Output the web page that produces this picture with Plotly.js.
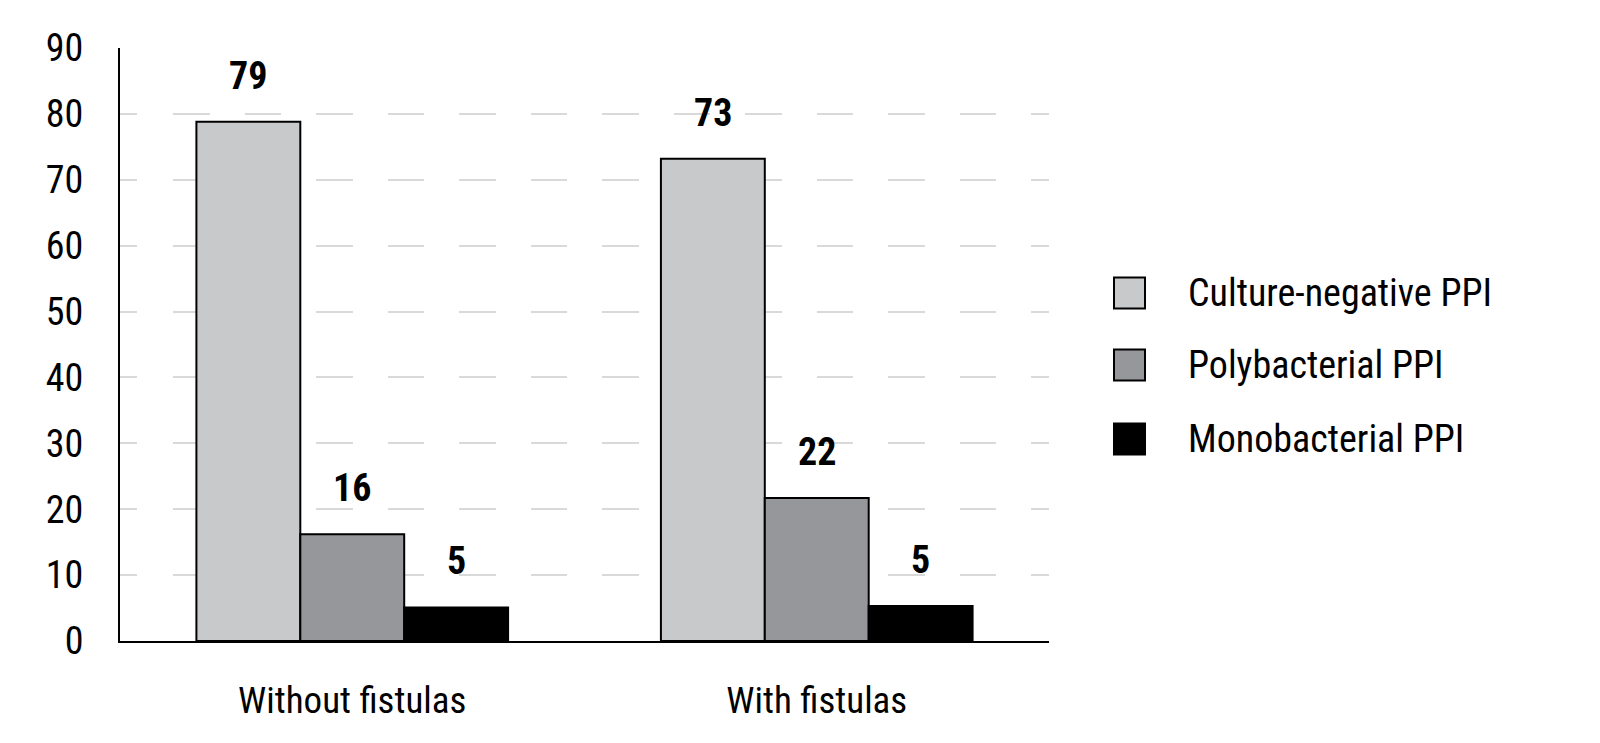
<!DOCTYPE html>
<html>
<head>
<meta charset="utf-8">
<script src="https://cdn.plot.ly/plotly-3.0.1.min.js"></script>
<style>html,body{margin:0;padding:0;background:#fff;}#chart{width:1600px;height:743px;}</style>
</head>
<body>
<div id="chart"></div>
<script>
// ---- data ----
var categories = ['Without fistulas', 'With fistulas'];
var seriesNames = ['Culture-negative PPI', 'Polybacterial PPI', 'Monobacterial PPI'];
var cultureNegative = [78.8, 73.2];
var polybacterial = [16.2, 21.7];
var monobacterial = [5.1, 5.3];
var labelsCultureNegative = ['79', '73'];
var labelsPolybacterial = ['16', '22'];
var labelsMonobacterial = ['5', '5'];
var yTickValues = [0, 10, 20, 30, 40, 50, 60, 70, 80, 90];

// ---- style ----
var colors = ['#c8c9cb', '#96979a', '#000000'];
var FONT = '"Roboto Condensed", "DejaVu Sans Condensed", sans-serif';
var W = 1600, H = 743;
var M = {l: 120, r: 551, t: 48, b: 102};
var bargap = 0.329;

var seriesValues = [cultureNegative, polybacterial, monobacterial];
var seriesLabels = [labelsCultureNegative, labelsPolybacterial, labelsMonobacterial];

var traces = seriesValues.map(function (vals, j) {
  return {
    type: 'bar',
    name: seriesNames[j],
    x: categories,
    y: vals,
    marker: {color: colors[j], line: {color: '#000000', width: 2}},
    hoverinfo: 'skip',
    showlegend: false
  };
});

// grid dash pattern: partial first dash then regular dashes
var dashParts = ['17px', '36px'];
for (var k = 0; k < 14; k++) { dashParts.push('36.5px'); dashParts.push('35px'); }
var gridDash = dashParts.join(',');

var annotations = [];
var barW = (1 - bargap) / 3;
seriesValues.forEach(function (vals, j) {
  vals.forEach(function (v, i) {
    annotations.push({
      x: i + (j - 1) * barW, y: v, xref: 'x', yref: 'y',
      text: '<b>' + seriesLabels[j][i] + '</b>',
      showarrow: false, yanchor: 'bottom', yshift: 22,
      font: {family: FONT, size: 38, color: '#000'}
    });
  });
});

// custom legend (large square swatches)
var plotW = W - M.l - M.r, plotH = H - M.t - M.b;
function px2x(p) { return (p - M.l) / plotW; }
function py2y(p) { return (H - M.b - p) / plotH; }
var legendCentersY = [293, 365, 439];
var shapes = [];
seriesNames.forEach(function (name, j) {
  var cy = legendCentersY[j];
  shapes.push({
    type: 'rect', xref: 'paper', yref: 'paper',
    x0: px2x(1114), x1: px2x(1145), y0: py2y(cy + 15.5), y1: py2y(cy - 15.5),
    fillcolor: colors[j], line: {color: '#000', width: 2}
  });
  annotations.push({
    xref: 'paper', yref: 'paper', x: px2x(1186), y: py2y(cy),
    xanchor: 'left', yanchor: 'middle', showarrow: false,
    text: name, font: {family: FONT, size: 38, color: '#000'}
  });
});

var layout = {
  width: W, height: H,
  margin: M,
  paper_bgcolor: '#ffffff', plot_bgcolor: '#ffffff',
  barmode: 'group', bargap: bargap, bargroupgap: 0,
  showlegend: false,
  font: {family: FONT, size: 38, color: '#000'},
  xaxis: {
    type: 'category', range: [-0.5, 1.5], fixedrange: true,
    showline: true, linecolor: '#000', linewidth: 2,
    showgrid: false, zeroline: false, ticks: '',
    ticklabelstandoff: 26,
    tickfont: {family: FONT, size: 37, color: '#000'}
  },
  yaxis: {
    range: [0, 90], tickvals: yTickValues, fixedrange: true,
    showline: true, linecolor: '#000', linewidth: 2,
    showgrid: true, gridcolor: '#d9d9d9', gridwidth: 2, griddash: gridDash,
    zeroline: false, ticks: '',
    ticklabelstandoff: 27,
    tickfont: {family: FONT, size: 38, color: '#000'}
  },
  shapes: shapes,
  annotations: annotations
};

Plotly.newPlot('chart', traces, layout, {displayModeBar: false, staticPlot: true});
</script>
</body>
</html>
